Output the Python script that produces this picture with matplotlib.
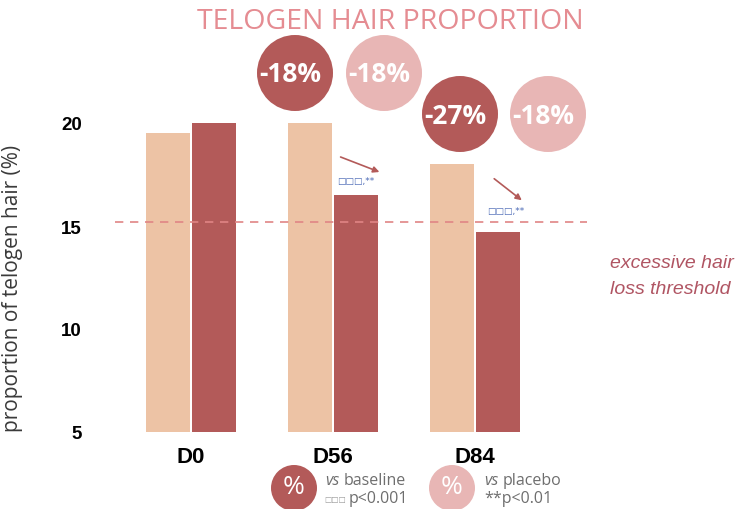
import matplotlib
matplotlib.use("Agg")
import matplotlib.pyplot as plt
from matplotlib.patches import Circle, FancyArrowPatch
import numpy as np

# Data
days = ["D0", "D56", "D84"]
placebo = [19.5, 20.0, 18.0]
active = [20.0, 16.5, 14.7]
threshold = 15.2
change_vs_baseline = ["-18%", "-27%"]   # active, D56 and D84
change_vs_placebo = ["-18%", "-18%"]
yticks = [5, 10, 15, 20]

# Colours
C_PLACEBO = "#EDC3A5"
C_ACTIVE = "#B35A59"
C_LIGHT = "#E8B6B5"
C_TITLE = "#E58C92"
C_DASH = "#E08585"
C_NOTE = "#B05563"
C_SIG = "#4A68B5"
C_GREY = "#6E6E6E"

W, H = 749, 510
fig = plt.figure(figsize=(W / 100, H / 100), dpi=100)

# main axes: left at 100 px, bottom at 433 px from top, up to top edge
ax = fig.add_axes([100 / W, (H - 433) / H, (W - 100) / W, 433 / H])
px_per_unit_y = 20.6
ax.set_ylim(5, 5 + 433 / px_per_unit_y)
ax.set_xlim((100 - 191) / 142, (W - 191) / 142)

x = np.arange(len(days))
bw = 0.31
off = 0.162
ax.bar(x - off, [v - 5 for v in placebo], bottom=5, width=bw, color=C_PLACEBO)
ax.bar(x + off, [v - 5 for v in active], bottom=5, width=bw, color=C_ACTIVE)

ax.axhline(threshold, xmin=(115 - 100) / (W - 100), xmax=(587 - 100) / (W - 100),
           color=C_DASH, lw=1.2, ls=(0, (5, 4)))

for s in ax.spines.values():
    s.set_visible(False)
ax.set_yticks(yticks)
ax.set_yticklabels([str(t) for t in yticks], fontsize=13.5, fontweight="bold",
                   family="Liberation Sans")
ax.set_xticks(x)
ax.set_xticklabels(days, fontsize=16, fontweight="bold", family="Liberation Sans")
ax.tick_params(axis="y", length=0, pad=13)
ax.tick_params(axis="x", length=0, pad=10)
ax.set_ylabel("proportion of telogen hair (%)", fontsize=15, color="#3a3a3a",
              family="Open Sans")
ax.yaxis.set_label_coords(23 / W, 1 - 288 / H, transform=fig.transFigure)

# overlay in pixel coordinates for annotations
ov = fig.add_axes([0, 0, 1, 1], zorder=5)
ov.set_xlim(0, W)
ov.set_ylim(H, 0)
ov.axis("off")

ov.text(390, 22, "TELOGEN HAIR PROPORTION", ha="center", va="center",
        fontsize=20.5, color=C_TITLE, family="Open Sans")

R = 38
bubbles = [
    (295, 74, C_ACTIVE, change_vs_baseline[0]),
    (384, 74, C_LIGHT, change_vs_placebo[0]),
    (460, 115, C_ACTIVE, change_vs_baseline[1]),
    (548, 115, C_LIGHT, change_vs_placebo[1]),
]
for cx, cy, col, txt in bubbles:
    ov.add_patch(Circle((cx, cy), R, color=col, lw=0))
    ov.text(cx - R + 2, cy + 1, txt, ha="left", va="center", fontsize=19,
            fontweight="bold", color="white", family="Open Sans")

# trend arrows and significance marks
for (x0, y0, x1, y1) in [(338, 157, 382, 174), (492, 178, 524, 203)]:
    ov.add_patch(FancyArrowPatch((x0, y0), (x1, y1), arrowstyle="-|>",
                                 mutation_scale=9, color=C_ACTIVE, lw=1.2))
for (tx, ty) in [(356, 182), (506, 212)]:
    ov.text(tx, ty, "\u25a1\u25a1\u25a1,**", ha="center", va="center",
            fontsize=6.5, color=C_SIG, family="DejaVu Sans")

ov.text(610, 264, "excessive hair", ha="left", va="center", fontsize=14,
        style="italic", color=C_NOTE, family="Liberation Sans")
ov.text(610, 290, "loss threshold", ha="left", va="center", fontsize=14,
        style="italic", color=C_NOTE, family="Liberation Sans")

# legend
for cx, col in [(294, C_ACTIVE), (452, C_LIGHT)]:
    ov.add_patch(Circle((cx, 489), 23, color=col, lw=0))
    ov.text(cx, 488, "%", ha="center", va="center", fontsize=19,
            color="white", family="Open Sans")
ov.text(325, 481, "vs", ha="left", va="center", fontsize=11.5, style="italic",
        color=C_GREY, family="Open Sans")
ov.text(344, 481, "baseline", ha="left", va="center", fontsize=11.5,
        color=C_GREY, family="Open Sans")
ov.text(324, 500, "\u25a1\u25a1\u25a1", ha="left", va="center", fontsize=5.5,
        color="#9a9a9a", family="DejaVu Sans")
ov.text(349, 499, "p<0.001", ha="left", va="center", fontsize=11.5,
        color=C_GREY, family="Open Sans")
ov.text(484, 481, "vs", ha="left", va="center", fontsize=11.5, style="italic",
        color=C_GREY, family="Open Sans")
ov.text(503, 481, "placebo", ha="left", va="center", fontsize=11.5,
        color=C_GREY, family="Open Sans")
ov.text(484, 499, "**p<0.01", ha="left", va="center", fontsize=11.5,
        color=C_GREY, family="Open Sans")

fig.savefig("out.png", dpi=100)
